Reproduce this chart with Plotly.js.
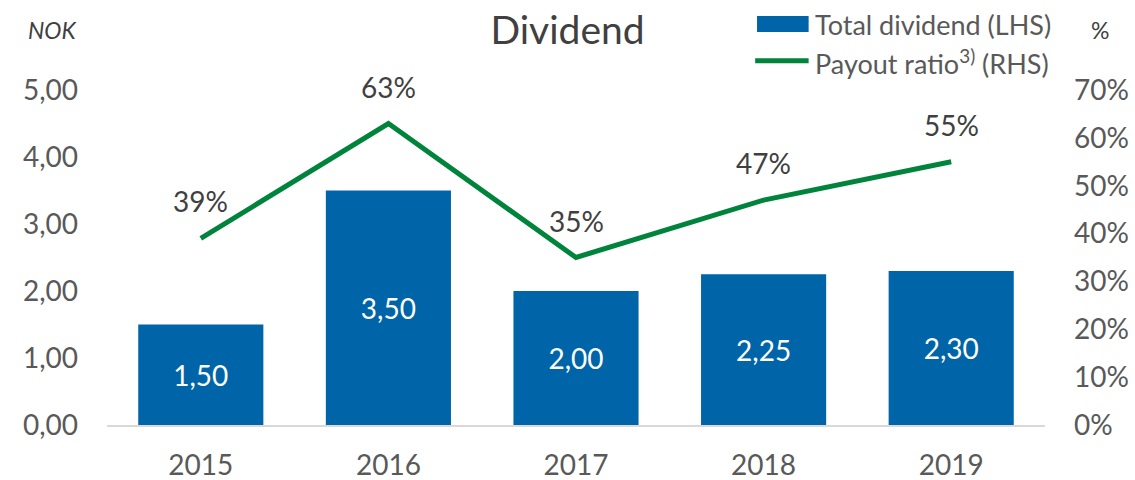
<!DOCTYPE html>
<html><head><meta charset="utf-8">
<script src="https://cdn.plot.ly/plotly-3.0.1.min.js"></script>
<style>html,body{margin:0;padding:0;background:#fff}#c{width:1135px;height:480px}</style>
</head><body><div id="c"></div>
<script>
const years = ['2015','2016','2017','2018','2019'];
const dividend = [1.50, 3.50, 2.00, 2.25, 2.30];
const payout = [0.39, 0.63, 0.35, 0.47, 0.55];
const leftTicks = [0,1,2,3,4,5];
const rightTicks = [0,0.1,0.2,0.3,0.4,0.5,0.6,0.7];

const FONT = 'Lato, "Open Sans", sans-serif';
const fmt = v => v.toFixed(2).replace('.', ',');

const bars = {
  type:'bar', x:years, y:dividend, name:'Total dividend (LHS)',
  marker:{color:'#0064a8'},
  text: dividend.map(fmt), textposition:'inside', insidetextanchor:'middle',
  textfont:{color:'#ffffff', size:28, family:FONT},
  hoverinfo:'skip'
};
const line = {
  type:'scatter', mode:'lines', x:years, y:payout, yaxis:'y2',
  name:'Payout ratio (RHS)', line:{color:'#00843c', width:5}, hoverinfo:'skip'
};

const annotations = years.map((yr,i)=>({
  x:i, y:payout[i], xref:'x', yref:'y2', text:Math.round(payout[i]*100)+'%',
  showarrow:false, yshift:37, font:{size:28, color:'#404040', family:FONT}
}));
annotations.push(
  {xref:'paper', yref:'paper', x:-0.086, y:1.179, xanchor:'left', yanchor:'middle', showarrow:false,
   text:'<i>NOK</i>', font:{size:23, color:'#404040', family:FONT}},
  {xref:'paper', yref:'paper', x:1.047, y:1.179, xanchor:'left', yanchor:'middle', showarrow:false,
   text:'%', font:{size:23, color:'#404040', family:FONT}},
  {xref:'paper', yref:'paper', x:0.753, y:1.197, xanchor:'left', yanchor:'middle', showarrow:false,
   text:'Total dividend (LHS)', font:{size:27, color:'#595959', family:FONT}},
  {xref:'paper', yref:'paper', x:0.753, y:1.084, xanchor:'left', yanchor:'middle', showarrow:false,
   text:'Payout ratio<sup>3)</sup> (RHS)', font:{size:27, color:'#595959', family:FONT}}
);

const shapes = [
  {type:'rect', xref:'paper', yref:'paper', x0:0.693, x1:0.748, y0:1.173, y1:1.221,
   fillcolor:'#0064a8', line:{width:0}},
  {type:'line', xref:'paper', yref:'paper', x0:0.691, x1:0.748, y0:1.087, y1:1.087,
   line:{color:'#00843c', width:5}}
];

const layout = {
  width:1135, height:480,
  margin:{l:107, r:90, t:90, b:55},
  paper_bgcolor:'#fff', plot_bgcolor:'#fff',
  separators:', ',
  font:{family:FONT, color:'#595959'},
  showlegend:false,
  bargap:0.333,
  title:{text:'Dividend', x:0.5, xref:'container', xanchor:'center', y:0.9375, yanchor:'middle',
         font:{size:39, color:'#404040', family:FONT}},
  xaxis:{type:'category', range:[-0.5, 4.5], showgrid:false, showline:true, linecolor:'#d9d9d9', linewidth:2,
         ticks:'', tickfont:{size:28, color:'#595959'}, ticklabelstandoff:14, zeroline:false},
  yaxis:{range:[0,5], tickvals:leftTicks, tickformat:'.2f', showgrid:false, zeroline:false,
         showline:false, ticks:'', tickfont:{size:28, color:'#595959'}, ticklabelstandoff:28},
  yaxis2:{range:[0,0.7], overlaying:'y', side:'right', tickvals:rightTicks, tickformat:'.0%',
          showgrid:false, zeroline:false, showline:false, ticks:'',
          tickfont:{size:28, color:'#595959'}, ticklabelstandoff:28},
  annotations, shapes
};
Plotly.newPlot('c', [bars, line], layout, {displayModeBar:false, staticPlot:true});
</script></body></html>
